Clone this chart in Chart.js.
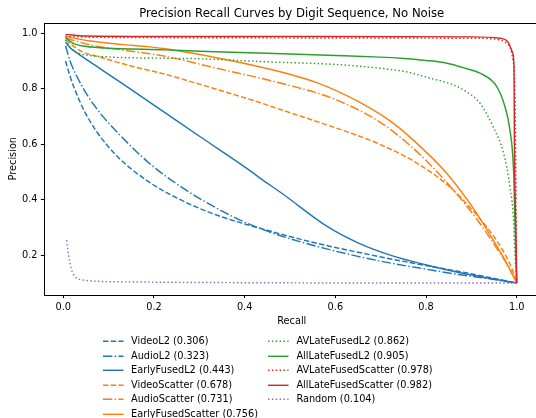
<!DOCTYPE html>
<html>
<head>
<meta charset="utf-8">
<script src="https://cdn.jsdelivr.net/npm/chart.js@4.4.0/dist/chart.umd.min.js"></script>
<style>
html, body { margin: 0; padding: 0; overflow: hidden; background: #fff; }
#wrap { position: relative; width: 536px; height: 418px; overflow: hidden; }
#myChart { display: block; }
#legend { position: absolute; left: 0; top: 0; font-family: "DejaVu Sans", sans-serif; font-size: 9.75px; color: #000; }
.item { position: absolute; height: 14.6px; line-height: 14.6px; white-space: nowrap; }
.item svg { position: absolute; left: 0; top: 0; }
.item span { position: absolute; left: 28px; top: 0; }
</style>
</head>
<body>
<div id="wrap">
  <canvas id="myChart" width="540" height="418"></canvas>
  <div id="legend"></div>
</div>
<script>
const chartTitle = 'Precision Recall Curves by Digit Sequence, No Noise';
const xTicks = [0.0, 0.2, 0.4, 0.6, 0.8, 1.0];
const yTicks = [0.2, 0.4, 0.6, 0.8, 1.0];

const seriesNames = ['VideoL2', 'AudioL2', 'EarlyFusedL2', 'VideoScatter', 'AudioScatter', 'EarlyFusedScatter',
  'AVLateFusedL2', 'AllLateFusedL2', 'AVLateFusedScatter', 'AllLateFusedScatter', 'Random'];
const apScores = [0.306, 0.323, 0.443, 0.678, 0.731, 0.756, 0.862, 0.905, 0.978, 0.982, 0.104];

// [recall, precision]
const videoL2 = [[0.005,0.90],[0.015,0.845],[0.026,0.795],[0.048,0.715],[0.074,0.645],[0.12,0.555],[0.191,0.462],
  [0.265,0.395],[0.338,0.345],[0.404,0.311],[0.45,0.29],[0.52,0.259],[0.581,0.235],[0.65,0.211],[0.728,0.185],
  [0.8,0.163],[0.875,0.141],[0.94,0.12],[1.0,0.10]];
const audioL2 = [[0.005,0.955],[0.015,0.9],[0.033,0.835],[0.055,0.772],[0.085,0.705],[0.121,0.64],[0.191,0.53],
  [0.265,0.441],[0.338,0.37],[0.39,0.327],[0.45,0.287],[0.52,0.25],[0.581,0.223],[0.65,0.196],[0.728,0.17],
  [0.8,0.15],[0.875,0.13],[0.94,0.115],[1.0,0.10]];
const earlyFusedL2 = [[0.005,0.968],[0.015,0.948],[0.026,0.934],[0.07,0.885],[0.129,0.82],[0.191,0.751],
  [0.225,0.713],[0.302,0.627],[0.404,0.514],[0.434,0.478],[0.485,0.42],[0.581,0.305],[0.65,0.245],
  [0.728,0.197],[0.801,0.165],[0.875,0.137],[0.94,0.117],[1.0,0.10]];
const videoScatter = [[0.005,0.976],[0.04,0.935],[0.077,0.916],[0.15,0.882],[0.225,0.852],[0.338,0.798],
  [0.434,0.75],[0.485,0.722],[0.581,0.67],[0.655,0.628],[0.698,0.6],[0.772,0.54],[0.846,0.455],
  [0.912,0.345],[0.963,0.235],[0.99,0.15],[1.0,0.10]];
const audioScatter = [[0.005,0.982],[0.06,0.958],[0.129,0.94],[0.191,0.926],[0.225,0.917],[0.338,0.874],
  [0.485,0.818],[0.596,0.764],[0.698,0.68],[0.772,0.585],[0.846,0.462],[0.912,0.33],[0.956,0.225],
  [0.985,0.15],[1.0,0.10]];
const earlyFusedScatter = [[0.005,0.988],[0.06,0.972],[0.129,0.96],[0.191,0.951],[0.225,0.944],[0.338,0.912],
  [0.449,0.873],[0.559,0.822],[0.647,0.757],[0.72,0.685],[0.772,0.615],[0.846,0.495],[0.904,0.37],
  [0.948,0.255],[0.975,0.18],[1.0,0.10]];
const avLateFusedL2 = [[0.005,0.976],[0.015,0.95],[0.026,0.934],[0.07,0.918],[0.225,0.91],[0.302,0.908],
  [0.45,0.897],[0.596,0.888],[0.698,0.874],[0.76,0.86],[0.809,0.838],[0.85,0.82],[0.882,0.796],
  [0.919,0.748],[0.948,0.663],[0.971,0.568],[0.985,0.447],[0.993,0.327],[0.996,0.207],[1.0,0.10]];
const allLateFusedL2 = [[0.005,0.984],[0.02,0.965],[0.04,0.955],[0.092,0.947],[0.225,0.94],[0.302,0.935],
  [0.45,0.928],[0.6,0.92],[0.698,0.914],[0.743,0.91],[0.8,0.902],[0.846,0.892],[0.89,0.872],[0.919,0.856],
  [0.956,0.808],[0.974,0.736],[0.985,0.652],[0.993,0.507],[0.996,0.327],[1.0,0.10]];
const avLateFusedScatter = [[0.005,0.99],[0.05,0.986],[0.3,0.984],[0.6,0.983],[0.9,0.982],[0.952,0.979],
  [0.978,0.964],[0.985,0.95],[0.992,0.9],[0.996,0.8],[0.998,0.5],[1.0,0.10]];
const allLateFusedScatter = [[0.005,0.996],[0.05,0.99],[0.3,0.988],[0.6,0.988],[0.9,0.987],[0.963,0.982],
  [0.981,0.968],[0.991,0.93],[0.994,0.88],[0.995,0.6],[0.998,0.3],[1.0,0.10]];
const random = [[0.0075,0.255],[0.01,0.22],[0.015,0.171],[0.02,0.14],[0.026,0.123],[0.037,0.113],
  [0.052,0.109],[0.08,0.106],[0.154,0.104],[0.3,0.102],[0.449,0.101],[0.7,0.1],[1.0,0.1]];

const seriesPoints = [videoL2, audioL2, earlyFusedL2, videoScatter, audioScatter, earlyFusedScatter,
  avLateFusedL2, allLateFusedL2, avLateFusedScatter, allLateFusedScatter, random];

const seriesColors = ['#1f77b4', '#1f77b4', '#1f77b4', '#ff7f0e', '#ff7f0e', '#ff7f0e',
  '#2ca02c', '#2ca02c', '#d62728', '#d62728', '#9467bd'];
const seriesStyles = ['dashed', 'dashdot', 'solid', 'dashed', 'dashdot', 'solid',
  'dotted', 'solid', 'dotted', 'solid', 'dotted'];
const dashes = {
  solid: [],
  dashed: [5.4, 2.33],
  dashdot: [9.33, 2.33, 1.46, 2.33],
  dotted: [1.46, 2.4]
};
const lineW = 1.45;
const font = 'DejaVu Sans';

const frame = {
  id: 'frame',
  afterDraw(chart) {
    const { ctx, chartArea: a } = chart;
    ctx.save();
    ctx.strokeStyle = '#000';
    ctx.lineWidth = 1;
    ctx.strokeRect(Math.round(a.left) + 0.5, Math.round(a.top) + 0.5,
      Math.round(a.right - a.left), Math.round(a.bottom - a.top));
    ctx.restore();
  }
};

const ctx = document.getElementById('myChart');

new Chart(ctx, {
  type: 'line',
  data: {
    datasets: seriesNames.map((name, i) => ({
      label: name + ' (' + apScores[i].toFixed(3) + ')',
      data: seriesPoints[i].map(p => ({ x: p[0], y: p[1] })),
      borderColor: seriesColors[i],
      borderDash: dashes[seriesStyles[i]],
      borderWidth: lineW,
      pointRadius: 0,
      fill: false,
      cubicInterpolationMode: 'monotone',
      order: seriesNames.length - i
    }))
  },
  options: {
    responsive: false,
    animation: false,
    devicePixelRatio: 1,
    layout: { padding: { left: 0, right: 0.8, top: 0, bottom: 91.15 } },
    plugins: {
      legend: { display: false },
      tooltip: { enabled: false },
      title: {
        display: true,
        text: chartTitle,
        fullSize: false,
        color: '#000',
        font: { family: font, size: 11.7, weight: 'normal' },
        padding: { top: 6.5, bottom: 2.16 }
      }
    },
    scales: {
      x: {
        type: 'linear',
        min: -0.0418,
        max: 1.0496,
        afterBuildTicks: s => { s.ticks = xTicks.map(v => ({ value: v })); },
        afterFit: s => { s.height = 32.15; },
        ticks: { color: '#000', padding: 4, font: { family: font, size: 9.75 }, callback: v => v.toFixed(1) },
        grid: { display: true, drawOnChartArea: false, drawTicks: true, tickLength: 3.4, tickWidth: 1, tickColor: '#000' },
        border: { display: false },
        title: { display: true, text: 'Recall', color: '#000', font: { family: font, size: 9.75 }, padding: { top: 0, bottom: 0 } }
      },
      y: {
        type: 'linear',
        min: 0.058,
        max: 1.038,
        afterBuildTicks: s => { s.ticks = yTicks.map(v => ({ value: v })); },
        afterFit: s => { s.width = 44.3; },
        ticks: { color: '#000', padding: 3.4, font: { family: font, size: 9.75 }, callback: v => v.toFixed(1) },
        grid: { display: true, drawOnChartArea: false, drawTicks: true, tickLength: 3.4, tickWidth: 1, tickColor: '#000' },
        border: { display: false },
        title: { display: true, text: 'Precision', color: '#000', font: { family: font, size: 9.75 }, padding: { top: 7.25, bottom: 0 } }
      }
    }
  },
  plugins: [frame]
});

// legend, two columns below the plot
const legend = document.getElementById('legend');
const colLeft = [103, 268.4];
const rowTop = 341.2;
const rowStep = 14.6;
seriesNames.forEach((name, i) => {
  const col = i < 6 ? 0 : 1;
  const row = col ? i - 6 : i;
  const item = document.createElement('div');
  item.className = 'item';
  item.style.left = colLeft[col] + 'px';
  item.style.top = (rowTop + row * rowStep - 7.3) + 'px';
  const dash = dashes[seriesStyles[i]].join(' ');
  item.innerHTML = '<svg width="21" height="14.6"><line x1="0" y1="7.3" x2="20.5" y2="7.3" stroke="' +
    seriesColors[i] + '" stroke-width="' + lineW + '"' + (dash ? ' stroke-dasharray="' + dash + '"' : '') +
    '/></svg><span></span>';
  item.querySelector('span').textContent = name + ' (' + apScores[i].toFixed(3) + ')';
  legend.appendChild(item);
});
</script>
</body>
</html>
